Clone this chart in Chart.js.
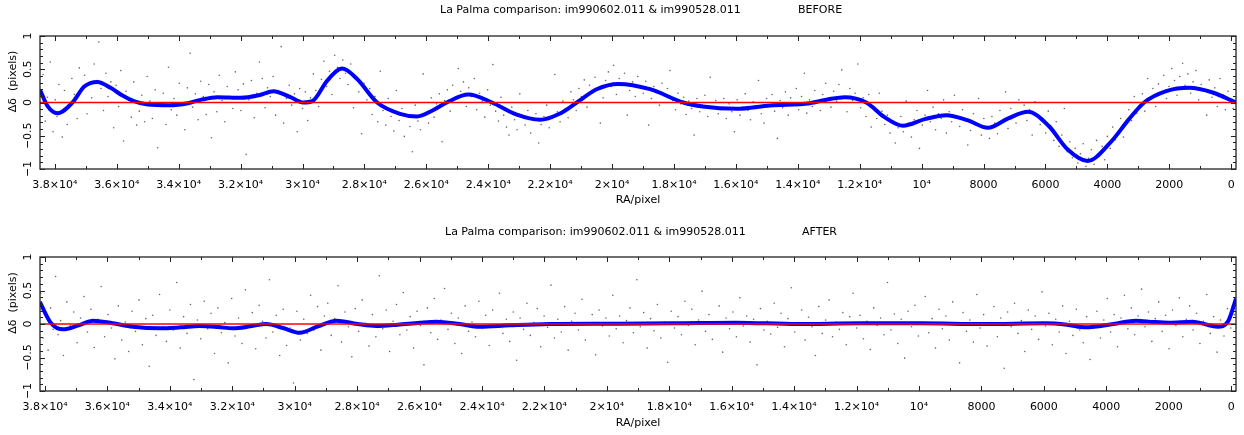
<!DOCTYPE html>
<html>
<head>
<meta charset="utf-8">
<script src="https://cdn.jsdelivr.net/npm/chart.js@4.4.0/dist/chart.umd.min.js"></script>
<style>
  html, body { margin: 0; padding: 0; background: #fff; }
  .panel { position: relative; width: 1244px; height: 217px; }
  .panel.low { height: 218px; }
</style>
</head>
<body>
<div class="panel"><canvas id="beforeChart"></canvas></div>
<div class="panel low"><canvas id="afterChart"></canvas></div>
<script>
// fitted curves (RA/pixel, delta in pixels)
const beforeCurveX = [38480,38240,37915,37430,37050,36625,36200,35800,35450,35000,34300,33700,33290,32750,32000,31400,30940,30390,29970,29680,29200,28720,28250,27590,26850,26300,25800,25340,24640,23880,23100,22320,21700,21140,20500,19800,18775,17700,17070,15980,14900,13610,13000,12480,11790,11200,10600,9900,9200,8500,7860,7200,6570,5900,5300,4640,3900,3300,2810,2100,1355,600,-155];
const beforeCurveY = [0.19,-0.05,-0.16,0.0,0.24,0.31,0.22,0.1,0.02,-0.03,-0.04,-0.01,0.04,0.08,0.07,0.11,0.17,0.08,0.0,0.02,0.33,0.51,0.36,0.0,-0.17,-0.21,-0.12,0.0,0.12,0.0,-0.18,-0.26,-0.17,0.0,0.2,0.28,0.2,0.0,-0.06,-0.095,-0.045,-0.01,0.05,0.08,0.0,-0.22,-0.35,-0.25,-0.19,-0.27,-0.38,-0.24,-0.14,-0.35,-0.7,-0.88,-0.6,-0.25,0.0,0.17,0.22,0.15,0.0];

const afterCurveX = [38165,37818,37421,36925,36458,35833,35188,34324,33649,33044,32458,31982,31366,30910,30374,29838,29282,28666,27991,27386,26701,25996,25460,24716,24081,23118,21837,19852,17867,15862,13896,11911,9926,7941,5956,5261,4655,3772,3047,2481,1985,1241,437,99,-155];
const afterCurveY = [0.33,0.02,-0.08,-0.02,0.05,0.01,-0.04,-0.065,-0.05,-0.03,-0.045,-0.065,-0.03,0.0,-0.06,-0.13,-0.04,0.05,0.0,-0.03,-0.01,0.02,0.035,0.0,-0.04,-0.02,0.0,0.005,0.01,0.02,0.0,0.01,0.01,0.0,0.01,-0.01,-0.05,0.0,0.05,0.03,0.02,0.035,-0.04,0.04,0.38];

// zero reference line
const zeroLineX = [38480, -155];
const zeroLineY = [0, 0];

// scattered measurements (a hand-estimated sample of the point cloud)
const beforeDots = [
[38380,0.42],[38310,-0.28],[38240,0.08],[38150,0.61],[38060,-0.44],[37990,0.04],[37930,-0.21],[37870,0.27],[37760,-0.52],[37690,0.18],[37600,-0.33],[37540,-0.08],[37450,0.36],[37370,0.12],[37280,-0.24],[37210,0.52],[37130,0.19],[37040,0.41],[36960,-0.17],[36880,0.28],[36810,0.07],[36730,0.58],[36650,0.33],[36580,0.91],[36510,0.21],[36430,-0.12],[36350,0.44],[36280,0.09],[36190,0.31],[36100,-0.38],[36020,0.26],[35940,-0.06],[35870,0.48],[35780,-0.58],[35700,0.17],[35610,0.03],[35530,-0.22],[35450,0.31],[35360,-0.34],[35270,-0.13],[35190,0.11],[35100,-0.29],[35020,0.39],[34930,0.02],[34850,-0.24],[34760,0.19],[34680,-0.68],[34590,-0.05],[34500,0.14],[34410,-0.33],[34330,0.53],[34240,-0.11],[34150,0.06],[34060,-0.19],[33980,0.29],[33890,-0.02],[33800,-0.41],[33720,0.22],[33630,0.74],[33550,-0.07],[33460,0.13],[33370,-0.26],[33290,0.32],[33200,0.09],[33110,-0.18],[33030,0.27],[32940,-0.53],[32860,0.16],[32770,-0.14],[32690,0.41],[32600,0.03],[32510,-0.29],[32430,0.24],[32340,0.07],[32250,-0.09],[32170,0.46],[32080,0.19],[31990,-0.12],[31910,0.28],[31820,-0.78],[31730,0.04],[31650,0.33],[31560,-0.23],[31470,0.14],[31390,0.61],[31300,0.36],[31210,-0.08],[31130,0.22],[31040,0.09],[30950,0.39],[30870,-0.19],[30780,0.18],[30690,0.84],[30610,-0.31],[30520,0.06],[30430,0.26],[30350,-0.04],[30260,0.13],[30170,-0.44],[30090,0.21],[30000,-0.09],[29910,0.16],[29830,-0.27],[29740,0.07],[29650,0.43],[29570,0.18],[29480,-0.06],[29390,0.35],[29310,0.62],[29220,0.24],[29130,0.47],[29050,0.12],[28960,0.71],[28870,0.53],[28790,0.36],[28700,0.64],[28610,0.44],[28530,0.27],[28440,0.58],[28350,-0.08],[28270,0.38],[28180,0.16],[28090,-0.47],[28010,0.29],[27920,0.04],[27830,0.21],[27750,-0.18],[27660,0.09],[27570,-0.29],[27490,0.47],[27400,-0.12],[27310,-0.34],[27230,0.06],[27140,-0.21],[27050,-0.43],[26970,0.18],[26880,-0.27],[26790,-0.09],[26710,-0.51],[26620,-0.19],[26530,-0.36],[26450,-0.74],[26360,-0.04],[26270,-0.28],[26190,-0.41],[26100,0.43],[26010,-0.16],[25930,-0.31],[25840,0.07],[25750,-0.22],[25670,-0.02],[25580,0.13],[25490,-0.59],[25410,0.03],[25320,0.19],[25230,-0.13],[25150,0.26],[25060,0.08],[24970,0.51],[24890,0.17],[24800,0.31],[24710,-0.06],[24630,0.22],[24540,0.09],[24450,0.36],[24370,-0.11],[24280,0.14],[24190,0.02],[24110,-0.22],[24020,0.19],[23930,-0.04],[23850,0.57],[23760,-0.13],[23670,-0.28],[23590,0.08],[23500,-0.19],[23410,-0.37],[23330,-0.49],[23240,-0.07],[23150,-0.26],[23070,-0.41],[22980,0.13],[22890,-0.22],[22810,-0.34],[22720,-0.12],[22630,-0.46],[22550,-0.27],[22460,-0.17],[22370,-0.61],[22290,-0.33],[22200,-0.21],[22110,-0.04],[22030,-0.38],[21940,-0.24],[21850,0.42],[21770,-0.14],[21680,-0.29],[21590,0.02],[21510,-0.09],[21420,-0.23],[21330,0.16],[21250,0.04],[21160,-0.12],[21070,0.21],[20990,0.09],[20900,0.34],[20810,-0.07],[20730,0.26],[20640,0.14],[20550,0.38],[20470,0.21],[20380,-0.31],[20290,0.07],[20210,0.33],[20120,0.46],[20030,0.24],[19950,0.56],[19860,0.12],[19770,0.36],[19690,0.27],[19600,0.44],[19510,-0.19],[19430,0.18],[19340,0.31],[19250,0.09],[19170,0.39],[19080,0.22],[18990,0.14],[18910,0.32],[18820,-0.34],[18730,0.06],[18650,0.24],[18560,0.17],[18470,-0.04],[18390,0.29],[18300,0.11],[18210,0.21],[18130,0.48],[18040,0.03],[17950,-0.11],[17870,0.14],[17780,-0.02],[17690,0.08],[17610,-0.18],[17520,0.02],[17430,-0.09],[17350,-0.49],[17260,0.06],[17170,-0.14],[17090,-0.04],[17000,0.11],[16910,-0.21],[16830,0.38],[16740,-0.08],[16650,0.03],[16570,-0.17],[16480,-0.11],[16390,0.06],[16310,-0.24],[16220,-0.02],[16130,-0.14],[16050,-0.44],[15960,0.04],[15870,-0.19],[15790,-0.07],[15700,0.13],[15610,-0.12],[15530,-0.26],[15440,0.01],[15350,-0.09],[15270,0.33],[15180,-0.17],[15090,-0.31],[15010,0.06],[14920,-0.06],[14830,0.12],[14750,-0.13],[14660,-0.54],[14570,0.03],[14490,-0.08],[14400,0.16],[14310,-0.19],[14230,0.07],[14140,-0.03],[14050,0.21],[13970,-0.11],[13880,0.09],[13790,0.44],[13710,-0.16],[13620,0.04],[13530,-0.06],[13450,0.18],[13360,0.01],[13270,-0.12],[13190,0.12],[13100,0.29],[13010,0.06],[12930,-0.07],[12840,0.17],[12750,0.02],[12670,0.27],[12580,0.49],[12490,0.09],[12410,-0.14],[12320,0.21],[12230,0.03],[12150,0.14],[12060,0.58],[11970,-0.08],[11890,0.07],[11800,-0.21],[11710,0.12],[11630,-0.37],[11540,-0.06],[11450,-0.24],[11370,0.14],[11280,-0.13],[11190,-0.33],[11110,-0.19],[11020,-0.46],[10930,-0.28],[10850,-0.61],[10760,-0.38],[10670,-0.21],[10590,-0.44],[10500,0.02],[10410,-0.31],[10330,-0.52],[10240,-0.26],[10150,-0.12],[10070,-0.69],[9980,-0.34],[9890,-0.19],[9810,0.18],[9720,-0.29],[9630,-0.07],[9550,-0.41],[9460,-0.17],[9370,-0.24],[9290,0.04],[9200,-0.46],[9110,-0.14],[9030,-0.29],[8940,0.11],[8850,-0.21],[8770,-0.36],[8680,-0.11],[8590,-0.27],[8510,-0.64],[8420,-0.42],[8330,-0.17],[8250,-0.33],[8160,0.06],[8070,-0.49],[7990,-0.24],[7900,-0.37],[7810,-0.54],[7730,-0.21],[7640,-0.31],[7550,-0.47],[7470,-0.12],[7380,-0.28],[7290,0.16],[7210,-0.39],[7120,-0.09],[7030,-0.22],[6950,-0.31],[6860,0.04],[6770,-0.16],[6690,-0.04],[6600,-0.27],[6510,-0.11],[6430,-0.49],[6340,0.01],[6250,-0.19],[6170,-0.33],[6080,-0.24],[5990,-0.46],[5910,-0.13],[5820,-0.41],[5730,-0.57],[5650,-0.29],[5560,-0.66],[5470,-0.49],[5390,-0.09],[5300,-0.74],[5210,-0.59],[5130,-0.83],[5040,-0.69],[4950,-0.91],[4870,-0.77],[4780,-0.62],[4690,-0.96],[4610,-0.84],[4520,-0.71],[4430,-0.93],[4350,-0.57],[4260,-0.79],[4170,-0.66],[4090,-0.86],[4000,-0.51],[3910,-0.69],[3830,-0.37],[3740,-0.56],[3650,-0.44],[3570,-0.24],[3480,-0.52],[3390,-0.31],[3310,-0.11],[3220,-0.27],[3130,0.09],[3050,-0.16],[2960,-0.04],[2870,0.13],[2790,-0.13],[2700,0.36],[2610,0.07],[2530,0.21],[2440,-0.06],[2350,0.28],[2270,0.14],[2180,0.41],[2090,0.06],[2010,0.24],[1920,0.51],[1830,0.33],[1750,0.11],[1660,0.39],[1570,0.59],[1490,0.26],[1400,0.43],[1310,0.14],[1230,0.31],[1140,0.48],[1050,0.04],[970,0.27],[880,0.17],[790,-0.19],[710,0.34],[620,0.08],[530,0.22],[450,-0.06],[360,0.36],[270,0.12],[190,-0.11],[100,0.17],[20,0.04],[-60,-0.09]
];

const afterDots = [
[38140,0.46],[38060,-0.21],[37980,0.12],[37900,-0.39],[37820,0.24],[37740,-0.08],[37660,0.71],[37580,-0.16],[37500,0.05],[37410,-0.47],[37300,0.33],[37190,-0.02],[37080,0.18],[36970,-0.28],[36860,0.09],[36750,0.41],[36640,-0.12],[36530,0.22],[36420,-0.35],[36310,0.07],[36200,0.56],[36090,-0.19],[35980,0.14],[35870,-0.06],[35760,-0.52],[35650,0.27],[35540,-0.24],[35430,0.03],[35320,-0.41],[35210,0.19],[35100,-0.11],[34990,0.36],[34880,-0.31],[34770,0.08],[34660,-0.63],[34550,0.13],[34440,-0.17],[34330,0.44],[34220,-0.04],[34110,-0.26],[34000,0.21],[33890,-0.09],[33780,0.62],[33670,-0.36],[33560,0.11],[33450,-0.14],[33340,0.29],[33230,-0.83],[33120,0.06],[33010,-0.22],[32900,0.34],[32790,-0.07],[32680,0.16],[32570,-0.44],[32460,0.24],[32350,-0.13],[32240,0.02],[32130,-0.58],[32020,0.38],[31910,-0.18],[31800,0.09],[31690,-0.29],[31580,0.51],[31470,-0.03],[31360,0.17],[31250,-0.37],[31140,0.28],[31030,0.04],[30920,-0.21],[30810,0.66],[30700,-0.12],[30590,0.13],[30480,-0.47],[30370,0.22],[30260,-0.32],[30150,-0.06],[30040,-0.88],[29930,0.19],[29820,-0.24],[29710,0.07],[29600,-0.14],[29490,0.43],[29380,-0.09],[29270,0.26],[29160,-0.39],[29050,0.12],[28940,0.31],[28830,-0.17],[28720,0.08],[28610,0.57],[28500,-0.27],[28390,0.18],[28280,-0.04],[28170,-0.49],[28060,0.23],[27950,-0.11],[27840,0.36],[27730,0.01],[27620,-0.33],[27510,0.14],[27400,-0.19],[27290,0.72],[27180,-0.07],[27070,0.21],[26960,-0.41],[26850,0.04],[26740,0.29],[26630,-0.16],[26520,0.47],[26410,-0.09],[26300,0.11],[26190,-0.36],[26080,0.19],[25970,-0.02],[25860,-0.61],[25750,0.24],[25640,-0.13],[25530,0.38],[25420,-0.23],[25310,0.06],[25200,0.53],[25090,-0.08],[24980,0.16],[24870,-0.29],[24760,0.09],[24650,-0.44],[24540,0.27],[24430,-0.11],[24320,0.03],[24210,-0.19],[24100,0.34],[23990,-0.06],[23880,0.13],[23770,-0.32],[23660,0.21],[23550,-0.02],[23440,0.46],[23330,-0.14],[23220,0.07],[23110,-0.26],[23000,0.18],[22890,-0.54],[22780,0.09],[22670,-0.08],[22560,0.31],[22450,-0.17],[22340,0.02],[22230,0.23],[22120,-0.34],[22010,0.12],[21900,-0.05],[21790,0.58],[21680,-0.21],[21570,0.07],[21460,-0.12],[21350,0.26],[21240,-0.39],[21130,0.04],[21020,0.16],[20910,-0.09],[20800,0.37],[20690,-0.24],[20580,0.01],[20470,0.14],[20360,-0.46],[20250,0.21],[20140,-0.03],[20030,0.09],[19920,-0.18],[19810,0.43],[19700,-0.07],[19590,0.12],[19480,-0.28],[19370,0.05],[19260,0.24],[19150,-0.13],[19040,0.66],[18930,-0.04],[18820,0.17],[18710,-0.36],[18600,0.08],[18490,-0.1],[18380,0.29],[18270,-0.21],[18160,0.03],[18050,-0.57],[17940,0.19],[17830,-0.06],[17720,0.11],[17610,-0.16],[17500,0.34],[17390,-0.02],[17280,0.22],[17170,-0.31],[17060,0.06],[16950,0.49],[16840,-0.11],[16730,0.14],[16620,-0.23],[16510,0.02],[16400,0.27],[16290,-0.42],[16180,0.09],[16070,-0.07],[15960,0.18],[15850,-0.19],[15740,0.39],[15630,-0.03],[15520,0.12],[15410,-0.27],[15300,0.07],[15190,-0.61],[15080,0.23],[14970,-0.09],[14860,0.04],[14750,-0.15],[14640,0.31],[14530,-0.05],[14420,0.16],[14310,-0.34],[14200,0.08],[14090,0.54],[13980,-0.12],[13870,0.02],[13760,0.21],[13650,-0.24],[13540,0.1],[13430,-0.04],[13320,-0.47],[13210,0.26],[13100,-0.14],[12990,0.06],[12880,0.36],[12770,-0.19],[12660,0.03],[12550,-0.08],[12440,0.17],[12330,-0.31],[12220,0.11],[12110,0.46],[12000,-0.06],[11890,0.13],[11780,-0.22],[11670,0.04],[11560,-0.38],[11450,0.24],[11340,-0.02],[11230,0.09],[11120,-0.16],[11010,0.62],[10900,-0.09],[10790,0.15],[10680,-0.29],[10570,0.07],[10460,-0.51],[10350,0.19],[10240,-0.04],[10130,0.28],[10020,-0.18],[9910,0.02],[9800,0.41],[9690,-0.13],[9580,0.08],[9470,-0.36],[9360,0.22],[9250,-0.07],[9140,0.12],[9030,-0.24],[8920,0.33],[8810,-0.01],[8700,-0.58],[8590,0.17],[8480,-0.11],[8370,0.06],[8260,-0.27],[8150,0.44],[8040,-0.06],[7930,0.14],[7820,-0.33],[7710,0.02],[7600,0.26],[7490,-0.19],[7380,0.09],[7270,-0.66],[7160,0.18],[7050,-0.04],[6940,0.31],[6830,-0.14],[6720,0.05],[6610,-0.41],[6500,0.21],[6390,-0.08],[6280,0.12],[6170,-0.23],[6060,0.48],[5950,-0.03],[5840,0.16],[5730,-0.31],[5620,0.07],[5510,-0.12],[5400,0.27],[5290,-0.44],[5180,0.04],[5070,-0.17],[4960,0.22],[4850,-0.09],[4740,-0.28],[4630,0.11],[4520,-0.53],[4410,-0.06],[4300,0.19],[4190,-0.21],[4080,0.06],[3970,0.38],[3860,-0.12],[3750,0.14],[3640,-0.34],[3530,0.09],[3420,0.43],[3310,-0.07],[3200,0.24],[3090,-0.16],[2980,0.12],[2870,0.52],[2760,-0.04],[2650,0.18],[2540,-0.26],[2430,0.08],[2320,0.33],[2210,-0.11],[2100,0.13],[1990,-0.37],[1880,0.21],[1770,-0.02],[1660,0.39],[1550,-0.19],[1440,0.07],[1330,0.27],[1220,-0.09],[1110,0.16],[1000,-0.29],[890,0.04],[780,0.44],[670,-0.14],[560,0.11],[450,-0.42],[340,0.06],[230,-0.18],[120,0.23],[10,-0.06],[-100,0.14]
];

// axis ticks, ranges and texts
const beforeRange = [-155, 38480];
const afterRange = [-155, 38160];
const xTickValues = [38000,36000,34000,32000,30000,28000,26000,24000,22000,20000,18000,16000,14000,12000,10000,8000,6000,4000,2000,0];
const xTickLabels = ['3.8\u00d710\u2074','3.6\u00d710\u2074','3.4\u00d710\u2074','3.2\u00d710\u2074','3\u00d710\u2074','2.8\u00d710\u2074','2.6\u00d710\u2074','2.4\u00d710\u2074','2.2\u00d710\u2074','2\u00d710\u2074','1.8\u00d710\u2074','1.6\u00d710\u2074','1.4\u00d710\u2074','1.2\u00d710\u2074','10\u2074','8000','6000','4000','2000','0'];
const yTickValues = [1, 0.5, 0, -0.5, -1];
const yTickLabels = ['1', '0.5', '0', '\u22120.5', '\u22121'];
const titleText = 'La Palma comparison: im990602.011 & im990528.011';

const FONT = '"DejaVu Sans", "Liberation Sans", sans-serif';

// frame with inward ticks, rotated y labels and the panel heading
const frameTicks = {
  id: 'frameTicks',
  afterDraw(chart, args, opts) {
    const { ctx, chartArea: a, scales: { x, y } } = chart;
    ctx.save();
    ctx.strokeStyle = '#222';
    ctx.lineWidth = 1.3;
    ctx.strokeRect(a.left, a.top, a.right - a.left, a.bottom - a.top);

    ctx.lineWidth = 1;
    ctx.beginPath();
    for (let v = 0; v <= 38000; v += 1000) {
      const px = Math.round(x.getPixelForValue(v)) + 0.5;
      const len = v % 2000 === 0 ? 5 : 3;
      ctx.moveTo(px, a.bottom); ctx.lineTo(px, a.bottom - len);
      ctx.moveTo(px, a.top); ctx.lineTo(px, a.top + len);
    }
    for (let i = -10; i <= 10; i++) {
      const py = Math.round(y.getPixelForValue(i / 10)) + 0.5;
      const len = i % 5 === 0 ? 5 : 3;
      ctx.moveTo(a.left, py); ctx.lineTo(a.left + len, py);
      ctx.moveTo(a.right, py); ctx.lineTo(a.right - len, py);
    }
    ctx.stroke();

    ctx.fillStyle = '#000';
    ctx.font = '11px ' + FONT;
    ctx.textAlign = 'center';
    ctx.textBaseline = 'middle';
    yTickValues.forEach((v, i) => {
      ctx.save();
      ctx.translate(28, y.getPixelForValue(v));
      ctx.rotate(-Math.PI / 2);
      ctx.fillText(yTickLabels[i], 0, 0);
      ctx.restore();
    });

    ctx.save();
    ctx.translate(13, (a.top + a.bottom) / 2 - 21);
    ctx.rotate(-Math.PI / 2);
    ctx.fillText('\u0394\u03b4  (pixels)', 0, 0);
    ctx.restore();

    ctx.textAlign = 'left';
    ctx.fillText(titleText, opts.titleX, opts.titleY);
    ctx.fillText(opts.tag, opts.tagX, opts.titleY);
    ctx.restore();
  }
};

function makeChart(id, dots, curveX, curveY, range, cfg) {
  return new Chart(document.getElementById(id), {
    type: 'scatter',
    data: {
      datasets: [
        {
          label: 'data',
          data: dots.map(p => ({ x: p[0], y: p[1] })),
          pointRadius: 0.8,
          pointBorderWidth: 0,
          backgroundColor: 'rgba(0,0,0,0.6)',
          order: 3
        },
        {
          label: 'fit',
          data: curveX.map((v, i) => ({ x: v, y: curveY[i] })),
          showLine: true,
          borderColor: '#0000ff',
          borderWidth: 4,
          pointRadius: 0,
          cubicInterpolationMode: 'monotone',
          order: 2
        },
        {
          label: 'zero',
          data: zeroLineX.map((v, i) => ({ x: v, y: zeroLineY[i] })),
          showLine: true,
          borderColor: '#ff0000',
          borderWidth: 1.3,
          pointRadius: 0,
          order: 1
        }
      ]
    },
    options: {
      responsive: true,
      maintainAspectRatio: false,
      animation: false,
      layout: { padding: { top: cfg.top, right: 8, left: 0, bottom: 0 } },
      plugins: {
        legend: { display: false },
        tooltip: { enabled: false },
        frameTicks: cfg
      },
      scales: {
        x: {
          type: 'linear',
          reverse: true,
          min: range[0],
          max: range[1],
          grid: { display: false },
          border: { display: false },
          afterBuildTicks: s => { s.ticks = xTickValues.map(v => ({ value: v })); },
          ticks: {
            autoSkip: false,
            maxRotation: 0,
            padding: 2,
            color: '#000',
            font: { family: FONT, size: 11 },
            callback: v => xTickLabels[xTickValues.indexOf(v)]
          },
          title: {
            display: true,
            text: 'RA/pixel',
            color: '#000',
            font: { family: FONT, size: 11 },
            padding: { top: 0, bottom: cfg.xTitlePad }
          },
          afterFit: s => { s.height = cfg.xHeight; }
        },
        y: {
          min: -1,
          max: 1,
          grid: { display: false },
          border: { display: false },
          ticks: { display: false },
          afterFit: s => { s.width = 40; }
        }
      }
    },
    plugins: [frameTicks]
  });
}

makeChart('beforeChart', beforeDots, beforeCurveX, beforeCurveY, beforeRange,
  { top: 36, xHeight: 48, xTitlePad: 10.4, titleX: 440, tagX: 798, titleY: 10, tag: 'BEFORE' });
makeChart('afterChart', afterDots, afterCurveX, afterCurveY, afterRange,
  { top: 40, xHeight: 44, xTitlePad: 5.4, titleX: 445, tagX: 802, titleY: 15.5, tag: 'AFTER' });
</script>
</body>
</html>
